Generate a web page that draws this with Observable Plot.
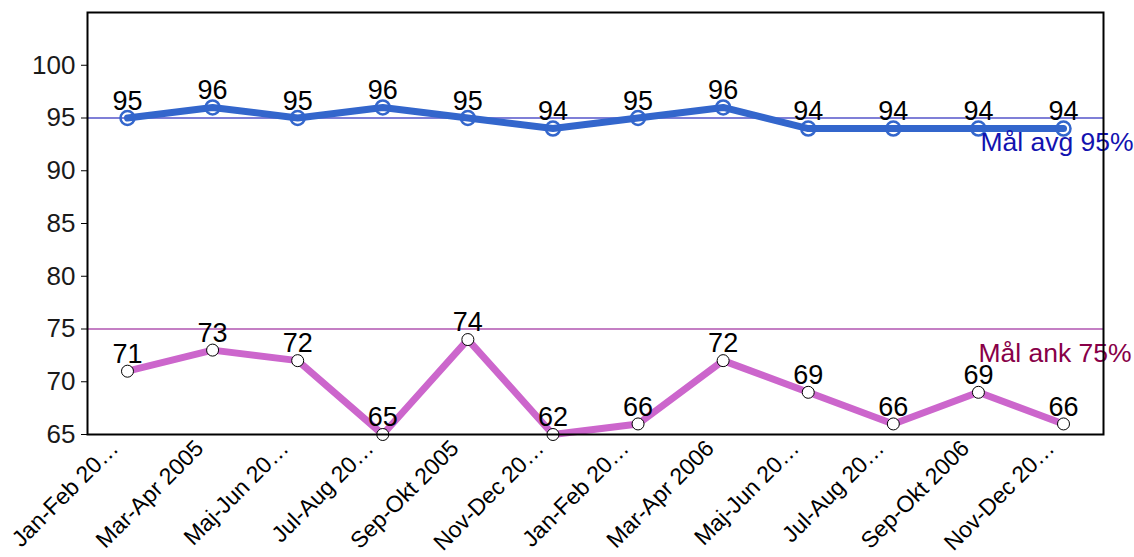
<!DOCTYPE html>
<html>
<head>
<meta charset="utf-8">
<script src="https://cdn.jsdelivr.net/npm/d3@7"></script>
<script src="https://cdn.jsdelivr.net/npm/@observablehq/plot@0.6"></script>
<style>
  html, body { margin: 0; padding: 0; background: #fff; }
  #chart svg { font-family: "Liberation Sans", Arial, sans-serif; display: block; }
</style>
</head>
<body>
<div id="chart"></div>
<script>
const categories = ["Jan-Feb 20…", "Mar-Apr 2005", "Maj-Jun 20…", "Jul-Aug 20…", "Sep-Okt 2005", "Nov-Dec 20…",
                    "Jan-Feb 20…​", "Mar-Apr 2006", "Maj-Jun 20…​", "Jul-Aug 20…​", "Sep-Okt 2006", "Nov-Dec 20…​"];
const avgValues = [95, 96, 95, 96, 95, 94, 95, 96, 94, 94, 94, 94];
const ankValues = [71, 73, 72, 65, 74, 62, 66, 72, 69, 66, 69, 66];
const yTicks = [65, 70, 75, 80, 85, 90, 95, 100];
const goals = [
  {value: 95, label: "Mål avg 95%"},
  {value: 75, label: "Mål ank 75%"}
];

const avg = categories.map((c, i) => ({cat: c, v: avgValues[i]}));
const ank = categories.map((c, i) => ({cat: c, v: ankValues[i]}));

const chart = Plot.plot({
  width: 1134,
  height: 557,
  marginLeft: 87,
  marginRight: 31,
  marginTop: 12,
  marginBottom: 123,
  style: {fontFamily: "'Liberation Sans', Arial, sans-serif", background: "#fff"},
  x: {domain: categories, type: "point", padding: 0.47, round: false},
  y: {domain: [65, 105], clamp: true},
  marks: [
    Plot.ruleY([goals[0].value], {stroke: "#0000b0", strokeWidth: 1.2}),
    Plot.ruleY([goals[1].value], {stroke: "#8a008a", strokeWidth: 1.2}),
    Plot.line(avg, {x: "cat", y: "v", stroke: "#3366cc", strokeWidth: 7}),
    Plot.dot(avg, {x: "cat", y: "v", r: 7, stroke: "#3366cc", strokeWidth: 2.5, fill: "none"}),
    Plot.line(ank, {x: "cat", y: "v", stroke: "#cc66cc", strokeWidth: 7}),
    Plot.dot(ank, {x: "cat", y: "v", r: 6, stroke: "#000", strokeWidth: 1, fill: "#fff"}),
    Plot.text(avg, {x: "cat", y: "v", text: d => String(d.v), dy: -17, fontSize: 27, fill: "#000"}),
    Plot.text(ank, {x: "cat", y: "v", text: d => String(d.v), dy: -17, fontSize: 27, fill: "#000"}),
    Plot.text([goals[0]], {x: () => categories[10], y: "value", text: "label", dx: 2, dy: 25, textAnchor: "start", fontSize: 26.5, fill: "#1212b0"}),
    Plot.text([goals[1]], {x: () => categories[10], y: "value", text: "label", dx: 0, dy: 25, textAnchor: "start", fontSize: 26.5, fill: "#880048"}),
    Plot.frame({stroke: "#000", strokeWidth: 2}),
    Plot.axisY({ticks: yTicks, tickSize: 6, tickPadding: 6, fontSize: 26, label: null, tickFormat: d => String(d), stroke: "#000", color: "#1a1a1a"}),
    Plot.axisX({tickSize: 0, tickPadding: 8, tickRotate: -45, fontSize: 23, label: null, color: "#000", dx: -13, dy: 2})
  ]
});
document.getElementById("chart").appendChild(chart);
</script>
</body>
</html>
